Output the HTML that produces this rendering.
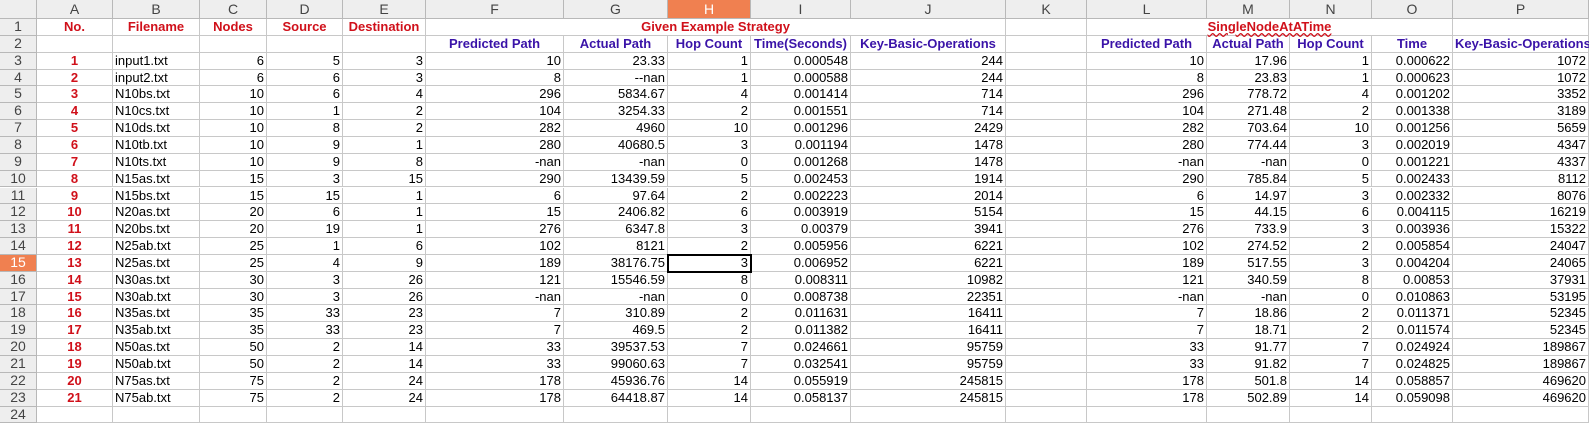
<!DOCTYPE html>
<html><head><meta charset="utf-8"><style>
body{margin:0;width:1589px;height:414px;overflow:hidden;background:#fff;font-family:"Liberation Sans",sans-serif;font-size:13px;position:relative}
.c{position:absolute;box-sizing:border-box;border-right:1px solid #c8c8c8;border-bottom:1px solid #c8c8c8;white-space:nowrap;overflow:visible;padding:0 2px;line-height:16px;color:#000}
.h{background:#eeeeee;color:#444;text-align:center;border-color:#b8b8b8;font-size:14px}
.sel{background:#f08050;color:#fff}
.r{text-align:right}.ctr{text-align:center}
.red{color:#d0101a;font-weight:bold}.pur{color:#3a13a8;font-weight:bold}
</style></head><body>
<div id="sheet"></div>
<script>
const colEdges=[0,37,113,200,267,343,426,564,668,751,851,1006,1087,1207,1290,1372,1453,1589];
const colLetters=['A','B','C','D','E','F','G','H','I','J','K','L','M','N','O','P'];
const files=['input1.txt','input2.txt','N10bs.txt','N10cs.txt','N10ds.txt','N10tb.txt','N10ts.txt','N15as.txt','N15bs.txt','N20as.txt','N20bs.txt','N25ab.txt','N25as.txt','N30as.txt','N30ab.txt','N35as.txt','N35ab.txt','N50as.txt','N50ab.txt','N75as.txt','N75ab.txt'];
const nodes=[6,6,10,10,10,10,10,15,15,20,20,25,25,30,30,35,35,50,50,75,75];
const source=[5,6,6,1,8,9,9,3,15,6,19,1,4,3,3,33,33,2,2,2,2];
const dest=[3,3,4,2,2,1,8,15,1,1,1,6,9,26,26,23,23,14,14,24,24];
const predA=['10','8','296','104','282','280','-nan','290','6','15','276','102','189','121','-nan','7','7','33','33','178','178'];
const actA=['23.33','--nan','5834.67','3254.33','4960','40680.5','-nan','13439.59','97.64','2406.82','6347.8','8121','38176.75','15546.59','-nan','310.89','469.5','39537.53','99060.63','45936.76','64418.87'];
const hopA=[1,1,4,2,10,3,0,5,2,6,3,2,3,8,0,2,2,7,7,14,14];
const timeA=['0.000548','0.000588','0.001414','0.001551','0.001296','0.001194','0.001268','0.002453','0.002223','0.003919','0.00379','0.005956','0.006952','0.008311','0.008738','0.011631','0.011382','0.024661','0.032541','0.055919','0.058137'];
const kboA=[244,244,714,714,2429,1478,1478,1914,2014,5154,3941,6221,6221,10982,22351,16411,16411,95759,95759,245815,245815];
const actB=['17.96','23.83','778.72','271.48','703.64','774.44','-nan','785.84','14.97','44.15','733.9','274.52','517.55','340.59','-nan','18.86','18.71','91.77','91.82','501.8','502.89'];
const hopB=[1,1,4,2,10,3,0,5,3,6,3,2,3,8,0,2,2,7,7,14,14];
const timeB=['0.000622','0.000623','0.001202','0.001338','0.001256','0.002019','0.001221','0.002433','0.002332','0.004115','0.003936','0.005854','0.004204','0.00853','0.010863','0.011371','0.011574','0.024924','0.024825','0.058857','0.059098'];
const kboB=[1072,1072,3352,3189,5659,4347,4337,8112,8076,16219,15322,24047,24065,37931,53195,52345,52345,189867,189867,469620,469620];

const sheet=document.getElementById('sheet');
const RH=16.85, TOP=19;
function cell(x0,x1,y,h,text,cls,name,inter){
  const d=document.createElement('div');
  d.className='c '+cls;
  d.style.left=x0+'px';d.style.width=(x1-x0)+'px';d.style.top=y+'px';d.style.height=h+'px';
  d.style.lineHeight=(h-1)+'px';
  d.textContent=text;
  
  
  sheet.appendChild(d);return d;
}
cell(0,37,0,TOP,'','h','corner-select-all','true');
for(let i=0;i<16;i++){
  cell(colEdges[i+1],colEdges[i+2],0,TOP,colLetters[i],'h'+(i===7?' sel':''),'column-header-'+colLetters[i].toLowerCase(),'true');
}
for(let r=0;r<24;r++){
  const y=TOP+r*RH;
  cell(0,37,y,RH,String(r+1),'h'+(r===14?' sel':''),'row-header-'+(r+1),'true');
  for(let c=0;c<16;c++){
    let t='',cls='';
    if(r===0){
      if(c===0){t='No.';cls='ctr red';}
      else if(c===1){t='Filename';cls='ctr red';}
      else if(c===2){t='Nodes';cls='ctr red';}
      else if(c===3){t='Source';cls='ctr red';}
      else if(c===4){t='Destination';cls='ctr red';}
    } else if(r===1){
      const hd={5:'Predicted Path',6:'Actual Path',7:'Hop Count',8:'Time(Seconds)',9:'Key-Basic-Operations',11:'Predicted Path',12:'Actual Path',13:'Hop Count',14:'Time',15:'Key-Basic-Operations'};
      if(hd[c]){t=hd[c];cls='ctr pur';}
    } else if(r-2<21){
      const i=r-2;
      const vals=[i+1,files[i],nodes[i],source[i],dest[i],predA[i],actA[i],hopA[i],timeA[i],kboA[i],'',predA[i],actB[i],hopB[i],timeB[i],kboB[i]];
      t=String(vals[c]);
      cls=c===0?'ctr red':(c===1?'':'r');
    }
    if(r===0 && c>=5 && c<=9) { if(c===5) cell(colEdges[6],colEdges[11],y,RH,'Given Example Strategy','ctr red','given-example-strategy-title','true'); continue; }
    if(r===0 && c>=11 && c<=14) { if(c===11){const d=cell(colEdges[12],colEdges[16],y,RH,'SingleNodeAtATime','ctr red','single-node-title','true');d.style.textDecoration='underline wavy #d0101a';} continue; }
    const d=cell(colEdges[c+1],colEdges[c+2],y,RH,t,cls,'cell-'+colLetters[c].toLowerCase()+(r+1),'true');
    if(r===14&&c===7){d.style.outline='2px solid #000';d.style.outlineOffset='-1px';d.style.zIndex=2;}
  }
}
</script>
</body></html>
